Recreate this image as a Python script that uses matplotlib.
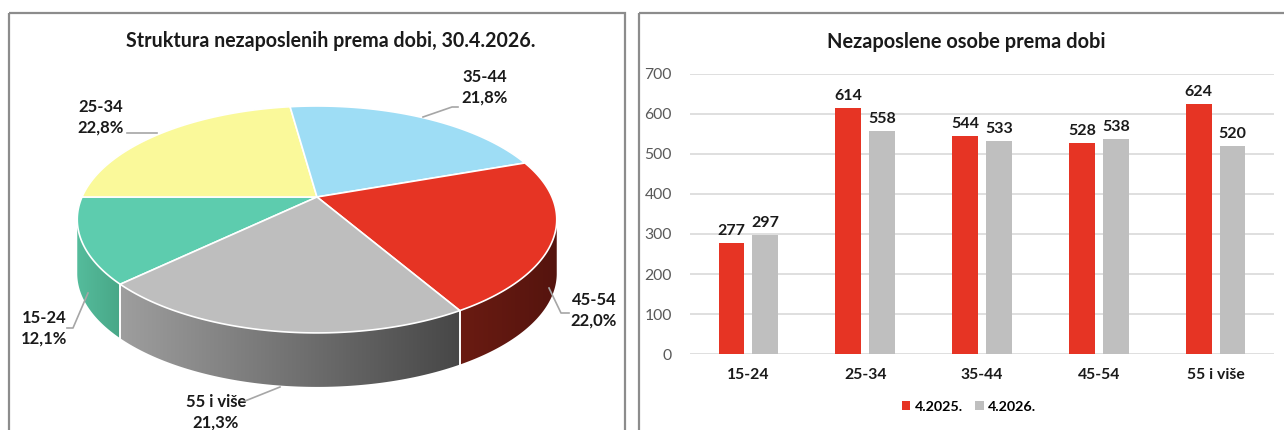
import numpy as np
import matplotlib.pyplot as plt
from matplotlib.patches import Polygon, Rectangle
from matplotlib.colors import to_rgb

# Data
groups = ['15-24', '25-34', '35-44', '45-54', '55 i više']
y2025 = [277, 614, 544, 528, 624]
y2026 = [297, 558, 533, 538, 520]
series_names = ['4.2025.', '4.2026.']
pie_title = 'Struktura nezaposlenih prema dobi, 30.4.2026.'
bar_title = 'Nezaposlene osobe prema dobi'

top_colors = ['#5DCCAE', '#FAF99A', '#9EDDF5', '#E63424', '#BEBEBE']
side_colors = [('#55BC9C', '#48A787'), ('#D8D77F', '#D8D77F'), ('#86BCD0', '#86BCD0'),
               ('#6A1B12', '#55140E'), ('#9E9E9E', '#474747')]
bar_colors = ['#E63424', '#BFBFBF']

plt.rcParams['font.family'] = ['Lato', 'DejaVu Sans']

W, H = 1284, 430
fig = plt.figure(figsize=(W / 100, H / 100), dpi=100)
bg = fig.add_axes([0, 0, 1, 1])
bg.set_xlim(0, W)
bg.set_ylim(H, 0)
bg.axis('off')

# panel borders
bg.add_patch(Rectangle((9, 13), 616, 440, fill=False, ec='#8C8C8C', lw=1.6))
bg.add_patch(Rectangle((639, 13), 660, 440, fill=False, ec='#8C8C8C', lw=1.6))

# ---- 3D pie (simple perspective projection) ----
CX, CY, A, B, K, DEPTH = 317, 197, 235, 109, 0.198, 54


def proj(t):
    t = np.radians(t)
    u, v = np.cos(t), np.sin(t)
    d = 1 + K * v
    return CX + A * u / d, CY - B * v / d


shares = np.array(y2026) / sum(y2026)
lo = -180 + np.degrees(np.arcsin(K))
hi = -np.degrees(np.arcsin(K))

start = 180 + 360 * shares[0]
bounds = []
for s in shares:
    bounds.append((start - 360 * s, start))
    start -= 360 * s

# sides, filled with a horizontal gradient clipped to the side shape
for i, (t1, t0) in enumerate(bounds):
    for shift in (-360, 0, 360):
        a0, a1 = max(t1 + shift, lo), min(t0 + shift, hi)
        if a1 <= a0:
            continue
        ts = np.linspace(a0, a1, 150)
        xs, ys = proj(ts)
        pts = list(zip(xs, ys)) + list(zip(xs[::-1], ys[::-1] + DEPTH))
        poly = Polygon(pts, closed=True, fc='none', ec='none')
        bg.add_patch(poly)
        c0, c1 = np.array(to_rgb(side_colors[i][0])), np.array(to_rgb(side_colors[i][1]))
        f = np.linspace(0, 1, 256)[None, :, None]
        grad = c0 * (1 - f) + c1 * f
        im = bg.imshow(grad, extent=(xs.min(), xs.max(), ys.max() + DEPTH + 1, ys.min() - 1),
                       aspect='auto', interpolation='bilinear', zorder=1)
        im.set_clip_path(poly)
        # white separators on the side
        for tb in (a0, a1):
            if lo + 0.5 < tb < hi - 0.5:
                px, py = proj(tb)
                bg.plot([px, px], [py, py + DEPTH], color='white', lw=1.2, zorder=2)

bg.set_xlim(0, W)
bg.set_ylim(H, 0)

# tops
for i, (t1, t0) in enumerate(bounds):
    ts = np.linspace(t0, t1, 120)
    xs, ys = proj(ts)
    pts = [(CX, CY)] + list(zip(xs, ys))
    bg.add_patch(Polygon(pts, closed=True, fc=top_colors[i], ec='white', lw=1.2, zorder=3))

# pie labels
label_pos = [(44, 318), (101, 107), (485, 77), (594, 300), (216, 402)]
leaders = [[(88, 293), (73, 328), (67, 328)],
           [(157, 133), (127, 133)],
           [(423, 117), (452, 107), (458, 107)],
           [(549, 288), (561, 313), (569, 313)],
           [(280, 387), (245, 401)]]
for i, g in enumerate(groups):
    pct = f'{shares[i] * 100:.1f}%'.replace('.', ',')
    x, y = label_pos[i]
    bg.text(x, y, g, ha='center', va='center', fontsize=12, fontweight='bold', color='#1a1a1a')
    bg.text(x, y + 21, pct, ha='center', va='center', fontsize=12, fontweight='bold', color='#1a1a1a')
    lx, ly = zip(*leaders[i])
    bg.plot(lx, ly, color='#A6A6A6', lw=1.2, zorder=4)

bg.text(331, 41, pie_title, ha='center', va='center', fontsize=14.1, fontweight='bold', color='#1a1a1a')
bg.text(966, 42, bar_title, ha='center', va='center', fontsize=14.4, fontweight='bold', color='#1a1a1a')

# ---- bar chart ----
ax = fig.add_axes([690 / W, 1 - 354 / H, 584 / W, 280 / H])
x = np.arange(len(groups))
bw = 0.22
off = 0.145
for k, (vals, name) in enumerate(zip([y2025, y2026], series_names)):
    pos = x + (-off if k == 0 else off)
    ax.bar(pos, vals, width=bw, color=bar_colors[k], label=name, zorder=3)
    for p, v in zip(pos, vals):
        ax.text(p, v + 13, str(v), ha='center', va='bottom', fontsize=11.5,
                fontweight='bold', color='#1a1a1a')

ax.set_xlim(-0.5, len(groups) - 0.5)
ax.set_ylim(0, 700)
ax.set_yticks(range(0, 701, 100))
ax.grid(axis='y', color='#D9D9D9', lw=1.2, zorder=0)
for sp in ax.spines.values():
    sp.set_visible(False)
ax.tick_params(axis='both', length=0)
ax.tick_params(axis='y', labelsize=11.3, labelcolor='#595959', pad=13)
ax.set_xticks(x)
ax.set_xticklabels(groups, fontsize=11.3, fontweight='bold', color='#1a1a1a')
ax.tick_params(axis='x', pad=10)

leg = fig.legend(loc='center', bbox_to_anchor=(969 / W, 1 - 407 / H), ncol=2, frameon=False,
                 handlelength=0.6, handleheight=0.6, handletextpad=0.3,
                 columnspacing=0.9, prop={'weight': 'bold', 'size': 10.3})

fig.savefig('out.png', dpi=100)
